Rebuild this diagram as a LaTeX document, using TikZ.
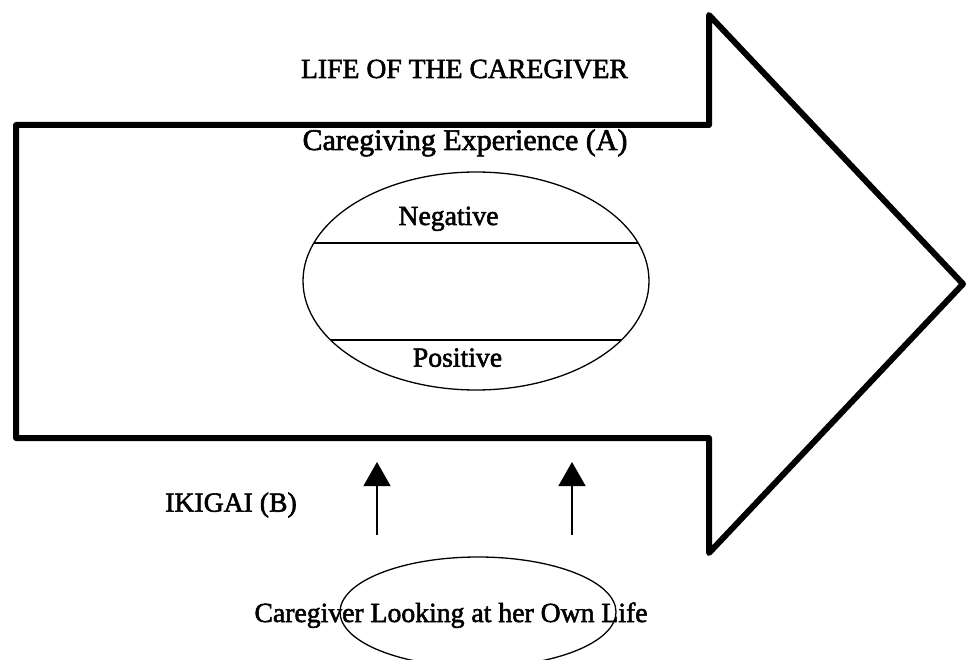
\documentclass[tikz,border=0pt]{standalone}
\usepackage{fontspec}
\setmainfont{Liberation Serif}
\newfontfamily\heavyserif{Liberation Serif}[FakeBold=2]
\usetikzlibrary{arrows.meta,shapes.geometric}
\begin{document}
\begin{tikzpicture}[x=1pt,y=-1pt,
  lbl/.style={font=\heavyserif\fontsize{27.7}{30}\selectfont, inner sep=0pt, anchor=base},
  bigarrow/.style={line width=6pt, line join=round},
  ring/.style={draw, ellipse, line width=1.3pt, inner sep=0pt},
  chord/.style={line width=1.3pt},
  uparrow/.style={line width=1.3pt, -{Triangle[width=27pt,length=24pt]}}]
\useasboundingbox (0,0) rectangle (969,660);
\clip (0,0) rectangle (969,660);

% the broad arrow standing for the caregiver's life
\coordinate (bl) at (16,438);
\coordinate (tl) at (16,125);
\coordinate (tn) at (709,125);
\coordinate (ht) at (709,15);
\coordinate (tip) at (963,284);
\coordinate (hb) at (709,553);
\coordinate (bn) at (709,438);
\draw[bigarrow] (tl) -- (tn) -- (ht) -- (tip) -- (hb) -- (bn) -- (bl) -- cycle;

% caregiving experience, split into negative and positive bands
\node[ring, minimum width=346pt, minimum height=218pt] (exp) at (476,281) {};
\begin{scope}
  \clip (476,281) ellipse [x radius=173, y radius=109];
  \draw[chord] (300,243) -- (660,243);
  \draw[chord] (300,340) -- (660,340);
\end{scope}

\node[lbl] (title) at (464.5,78) {LIFE OF THE CAREGIVER};
\node[lbl, font=\heavyserif\fontsize{30}{32}\selectfont] (expA) at (465,150) {Caregiving Experience (A)};
\node[lbl] (neg) at (448.5,225) {Negative};
\node[lbl] (pos) at (457.5,366.7) {Positive};
\node[lbl] (ikigai) at (231,511.7) {IKIGAI (B)};

% the caregiver's own view, feeding up into the life arrow
\node[ring, minimum width=276pt, minimum height=110pt] (ownring) at (478,612) {};
\node[lbl] (own) at (451,622) {Caregiver Looking at her Own Life};

\coordinate (a1s) at (377,535);
\coordinate (a1e) at (377,462);
\coordinate (a2s) at (572,535);
\coordinate (a2e) at (572,462);
\draw[uparrow] (a1s) -- (a1e);
\draw[uparrow] (a2s) -- (a2e);
\end{tikzpicture}
\end{document}
